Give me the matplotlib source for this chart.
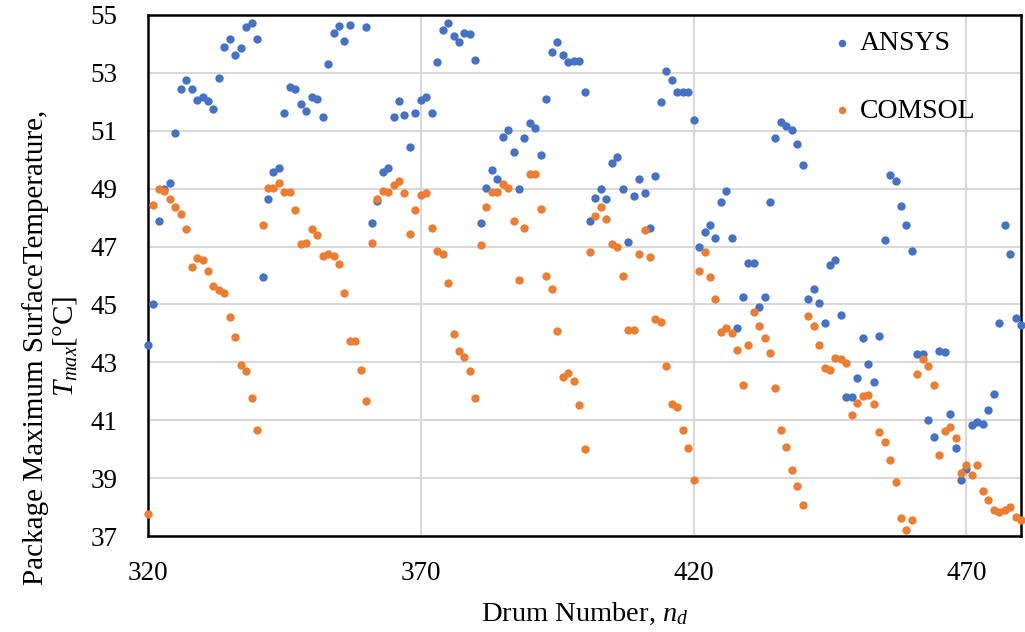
import numpy as np
import matplotlib
matplotlib.use('Agg')
import matplotlib.pyplot as plt

# drum numbers 320..480, one reading per drum
drum = np.arange(320, 481)

ansys = [
    43.61, 45.02, 47.87, 49.00, 49.20, 50.94, 52.45, 52.74, 52.45, 52.07,   # 320-329
    52.16, 52.04, 51.74, 52.82, 53.91, 54.16, 53.61, 53.85, 54.60, 54.72,   # 330-339
    54.18, 45.95, 48.65, 49.56, 49.71, 51.60, 52.50, 52.45, 51.91, 51.70,   # 340-349
    52.15, 52.11, 51.46, 53.30, 54.37, 54.62, 54.11, 54.64, np.nan, np.nan, # 350-359
    54.58, 47.83, 48.57, 49.56, 49.72, 51.46, 52.02, 51.54, 50.44, 51.63,   # 360-369
    52.05, 52.15, 51.61, 53.38, 54.48, 54.72, 54.27, 54.06, 54.37, 54.33,   # 370-379
    53.44, 47.83, 49.01, 49.64, 49.34, 50.77, 51.01, 50.27, 48.98, 50.76,   # 380-389
    51.26, 51.08, 50.17, 52.11, 53.71, 54.06, 53.62, 53.36, 53.41, 53.41,   # 390-399
    52.35, 47.89, 48.67, 48.98, 48.63, 49.90, 50.11, 48.98, 47.16, 48.73,   # 400-409
    49.34, 48.86, 47.64, 49.44, 52.00, 53.08, 52.74, 52.35, 52.33, 52.33,   # 410-419
    51.38, 46.99, 47.52, 47.76, 47.29, 48.53, 48.92, 47.29, 44.18, 45.24,   # 420-429
    46.44, 46.44, 44.90, 45.24, 48.54, 50.74, 51.31, 51.16, 51.03, 50.55,   # 430-439
    49.82, 45.18, 45.52, 45.04, 44.36, 46.38, 46.52, 44.65, 41.81, 41.81,   # 440-449
    42.46, 43.85, 42.94, 42.31, 43.90, 47.22, 49.48, 49.27, 48.39, 47.76,   # 450-459
    46.83, 43.28, 43.28, 41.01, 40.41, 43.38, 43.34, 41.20, 40.03, 38.92,   # 460-469
    39.30, 40.84, 40.93, 40.87, 41.35, 41.89, 44.35, 47.74, 46.75, 44.53,   # 470-479
    44.30,                                                                  # 480
]

comsol = [
    37.77, 48.42, 48.99, 48.93, 48.63, 48.35, 48.11, 47.59, 46.29, 46.61,   # 320-329
    46.52, 46.15, 45.64, 45.51, 45.40, 44.56, 43.86, 42.91, 42.71, 41.78,   # 330-339
    40.65, 47.75, 49.04, 49.01, 49.18, 48.87, 48.87, 48.25, 47.08, 47.14,   # 340-349
    47.59, 47.39, 46.67, 46.74, 46.67, 46.40, 45.38, 43.72, 43.72, 42.75,   # 350-359
    41.68, 47.12, 48.64, 48.92, 48.87, 49.14, 49.26, 48.86, 47.44, 48.25,   # 360-369
    48.77, 48.86, 47.64, 46.83, 46.75, 45.75, 43.97, 43.38, 43.20, 42.70,   # 370-379
    41.78, 47.04, 48.35, 48.90, 48.87, 49.17, 49.04, 47.89, 45.84, 47.64,   # 380-389
    49.49, 49.49, 48.29, 45.97, 45.54, 44.08, 42.49, 42.64, 42.37, 41.51,   # 390-399
    40.02, 46.80, 48.06, 48.35, 47.95, 47.10, 47.00, 45.97, 44.12, 44.12,   # 400-409
    46.73, 47.56, 46.63, 44.51, 44.39, 42.89, 41.56, 41.47, 40.67, 40.03,   # 410-419
    38.92, 46.15, 46.80, 45.95, 45.20, 44.06, 44.18, 44.00, 43.42, 42.22,   # 420-429
    43.60, 44.74, 44.27, 43.84, 43.32, 42.11, 40.65, 40.09, 39.27, 38.73,   # 430-439
    38.08, 44.60, 44.27, 43.61, 42.82, 42.72, 43.16, 43.10, 42.96, 41.17,   # 440-449
    41.59, 41.83, 41.86, 41.57, 40.58, 40.24, 39.64, 38.87, 37.62, 37.20,   # 450-459
    37.57, 42.61, 43.10, 42.88, 42.23, 39.79, 40.63, 40.77, 40.39, 39.19,   # 460-469
    39.47, 39.11, 39.47, 38.56, 38.23, 37.91, 37.84, 37.91, 38.01, 37.65,   # 470-479
    37.54,                                                                  # 480
]

x_ticks = [320, 370, 420, 470]
y_ticks = [37, 39, 41, 43, 45, 47, 49, 51, 53, 55]

plt.rcParams['font.family'] = ['Liberation Serif', 'DejaVu Serif']
plt.rcParams['mathtext.fontset'] = 'custom'
plt.rcParams['mathtext.rm'] = 'Liberation Serif'
plt.rcParams['mathtext.it'] = 'Liberation Serif:italic'

W, H = 1025, 632
fig = plt.figure(figsize=(W / 100, H / 100), dpi=100)
ax = fig.add_axes([148 / W, 1 - 536 / H, (1021 - 148) / W, (536 - 15) / H])

ax.scatter(drum, ansys, s=36, color='#4472C4', linewidths=0, zorder=3, clip_on=False, label='ANSYS')
ax.scatter(drum, comsol, s=36, color='#ED7D31', linewidths=0, zorder=4, clip_on=False, label='COMSOL')

ax.set_xlim(320, 480)
ax.set_ylim(37, 55)
ax.set_xticks(x_ticks)
ax.set_yticks(y_ticks)
ax.tick_params(length=0, labelsize=19.5)
ax.tick_params(axis='x', pad=18)
ax.tick_params(axis='y', pad=22)
ax.grid(True, color='#d9d9d9', linewidth=1.5)
ax.set_axisbelow(True)
for sp in ax.spines.values():
    sp.set_linewidth(1.8)
    sp.set_color('black')

ax.set_xlabel('Drum Number, $n_d$', fontsize=20.5, labelpad=11)
ax.set_ylabel('Package Maximum SurfaceTemperature,\n$T_{max}$[°C]', fontsize=21, linespacing=1.1)
ax.yaxis.set_label_coords(-0.079, 0.363)

ax.legend(loc='upper left', bbox_to_anchor=(835 / W, 1 - 31 / H), bbox_transform=fig.transFigure,
          frameon=False, fontsize=20, markerscale=0.9, handlelength=0.5, handletextpad=0.4,
          labelspacing=1.5, borderpad=0, borderaxespad=0)

fig.savefig('out.png', dpi=100, facecolor='white')
